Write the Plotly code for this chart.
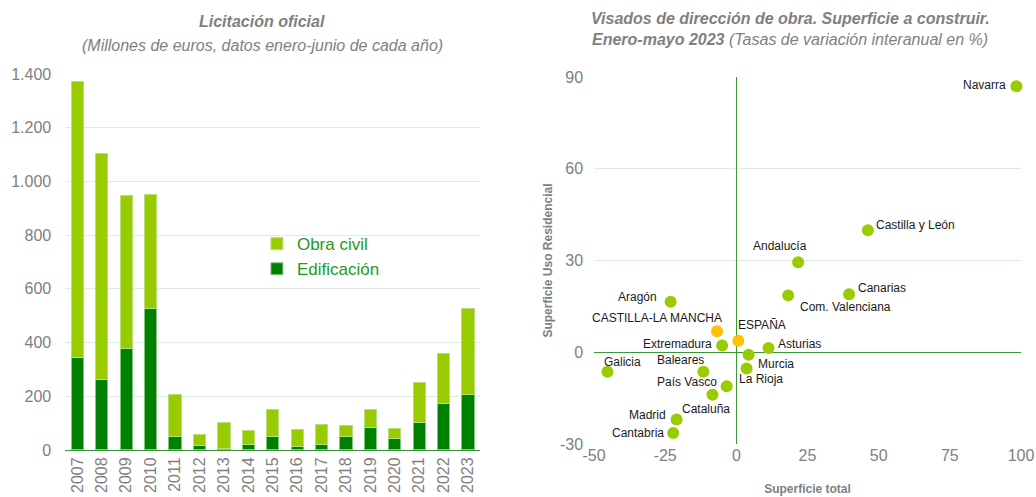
import plotly.graph_objects as go

# Licitación oficial (millones de euros, enero-junio)
years = [str(y) for y in range(2007, 2024)]
edificacion = [344, 264, 379, 525, 50, 16, 6, 21, 50, 12, 22, 50, 84, 41, 103, 174, 205]
total = [1371, 1105, 947, 953, 205, 56, 103, 74, 151, 77, 96, 93, 149, 81, 252, 359, 527]
obra_civil = [t - e for t, e in zip(total, edificacion)]

# Visados: superficie total vs uso residencial (% interanual)
regions = [
    "Navarra", "Castilla y León", "Andalucía", "Com. Valenciana", "Canarias",
    "ESPAÑA", "CASTILLA-LA MANCHA", "Extremadura", "Asturias", "Murcia",
    "La Rioja", "Baleares", "País Vasco", "Cataluña", "Galicia", "Aragón",
    "Madrid", "Cantabria",
]
sup_total = [98.4, 46.2, 21.7, 18.2, 39.6, 0.7, -6.8, -5.0, 11.3, 4.3,
             3.6, -11.6, -3.4, -8.4, -45.3, -23.1, -21.0, -22.2]
sup_residencial = [87.0, 39.9, 29.4, 18.6, 19.0, 3.8, 6.9, 2.2, 1.4, -0.8,
                   -5.3, -6.4, -11.1, -13.9, -6.4, 16.5, -22.0, -26.4]
highlight = {"ESPAÑA", "CASTILLA-LA MANCHA"}

# label offsets from the marker, in pixels (right, down)
label_offset = {
    "Navarra": (-32, -1), "Castilla y León": (48, -5), "Andalucía": (-18, -16),
    "Com. Valenciana": (57, 12), "Canarias": (33, -6), "ESPAÑA": (24, -16),
    "CASTILLA-LA MANCHA": (-60, -13), "Extremadura": (-45, -2), "Asturias": (31, -4),
    "Murcia": (27, 9), "La Rioja": (14, 11), "Baleares": (-23, -12),
    "País Vasco": (-40, -4), "Cataluña": (-6, 14), "Galicia": (15, -10),
    "Aragón": (-33, -5), "Madrid": (-29, -5), "Cantabria": (-35, 0),
}

DARK = "#008000"
LIGHT = "#99CC00"
ORANGE = "#FFC000"
GRAY = "#808080"
GRID = "#dcefdc"
AXIS_GREEN = "#3a9a3a"
FONT = "Liberation Sans"

fig = go.Figure()
fig.add_trace(
    go.Bar(
        x=years, y=edificacion, name="Edificación",
        marker={"color": DARK, "line": {"color": "#7fc97f", "width": 1}},
        xaxis="x", yaxis="y",
    )
)
fig.add_trace(
    go.Bar(
        x=years, y=obra_civil, name="Obra civil",
        marker={"color": LIGHT, "line": {"color": "#b8e07a", "width": 1}},
        xaxis="x", yaxis="y",
    )
)
fig.add_trace(
    go.Scatter(
        x=sup_total, y=sup_residencial, mode="markers",
        marker={"size": 12, "color": [ORANGE if r in highlight else LIGHT for r in regions]},
        showlegend=False, cliponaxis=False,
        xaxis="x2", yaxis="y2",
    )
)

point_labels = []
for name, x, y in zip(regions, sup_total, sup_residencial):
    dx, dy = label_offset[name]
    point_labels.append(
        {"text": name, "x": x, "y": y, "xref": "x2", "yref": "y2",
         "xshift": dx, "yshift": -dy, "xanchor": "center", "yanchor": "middle",
         "showarrow": False, "font": {"family": FONT, "size": 12, "color": "#1a1a1a"}}
    )


def title_note(text, x, y_px, size=16):
    return {"text": text, "x": x, "y": 1 - y_px / 497, "xref": "paper", "yref": "paper",
            "xanchor": "center", "yanchor": "middle", "showarrow": False,
            "font": {"family": FONT, "size": size, "color": GRAY}}


fig.update_layout(
    width=1036, height=497,
    margin={"l": 0, "r": 0, "t": 0, "b": 0},
    paper_bgcolor="white", plot_bgcolor="white",
    barmode="stack", bargap=0.5,
    separators=",.",
    font={"family": FONT, "color": GRAY},
    showlegend=True,
    legend={
        "x": 0.248, "y": 0.545, "xanchor": "left", "yanchor": "top",
        "traceorder": "reversed",
        "font": {"family": FONT, "size": 17, "color": "#1e9a1e"},
        "bgcolor": "rgba(0,0,0,0)", "itemwidth": 30,
    },
    xaxis={
        "domain": [0.063, 0.4635], "type": "category", "automargin": False,
        "showline": True, "linecolor": AXIS_GREEN, "linewidth": 1,
        "tickangle": -90, "ticks": "",
        "tickfont": {"family": FONT, "size": 16, "color": GRAY},
    },
    yaxis={
        "domain": [0.0946, 0.8511], "range": [0, 1400], "dtick": 200,
        "automargin": False,
        "tickformat": ",d", "showgrid": True, "gridcolor": GRID,
        "zeroline": False, "ticks": "", "ticklabelstandoff": 13,
        "tickfont": {"family": FONT, "size": 16, "color": GRAY},
    },
    xaxis2={
        "domain": [0.5734, 0.9855], "range": [-50, 100], "automargin": False,
        "tickmode": "array", "tickvals": [-50, -25, 0, 25, 50, 75, 100],
        "ticktext": ["-50", "-25", "0", "25", "50", "75", "100"],
        "showgrid": False, "zeroline": True, "zerolinecolor": AXIS_GREEN,
        "zerolinewidth": 1, "ticks": "", "anchor": "y2",
        "tickfont": {"family": FONT, "size": 16, "color": GRAY},
        "title": {"text": "<b>Superficie total</b>", "standoff": 21,
                  "font": {"family": FONT, "size": 12, "color": GRAY}},
    },
    yaxis2={
        "domain": [0.1066, 0.8451], "range": [-30, 90], "automargin": False,
        "tickmode": "array", "tickvals": [-30, 0, 30, 60, 90],
        "ticktext": ["-30", "0", "30", "60", "90"],
        "showgrid": True, "gridcolor": GRID,
        "zeroline": True, "zerolinecolor": AXIS_GREEN, "zerolinewidth": 1,
        "ticks": "", "anchor": "x2", "ticklabelstandoff": 10,
        "tickfont": {"family": FONT, "size": 16, "color": GRAY},
        "title": {"text": "<b>Superficie Uso Residencial</b>", "standoff": 4,
                  "font": {"family": FONT, "size": 12, "color": GRAY}},
    },
    annotations=[
        title_note("<b><i>Licitación oficial</i></b>", 0.253, 22),
        title_note("<i>(Millones de euros, datos enero-junio de cada año)</i>", 0.253, 46),
        title_note("<b><i>Visados de dirección de obra. Superficie a construir.</i></b>",
                   0.763, 18),
        title_note("<b><i>Enero-mayo 2023</i></b><i> (Tasas de variación interanual en %)</i>",
                   0.763, 40),
    ] + point_labels,
)

# drop the browser's default 8px body margin so the figure fills the window
fig.write_html(
    "out.html",
    config={"displayModeBar": False},
    post_script="document.body.style.margin = '0';",
)
